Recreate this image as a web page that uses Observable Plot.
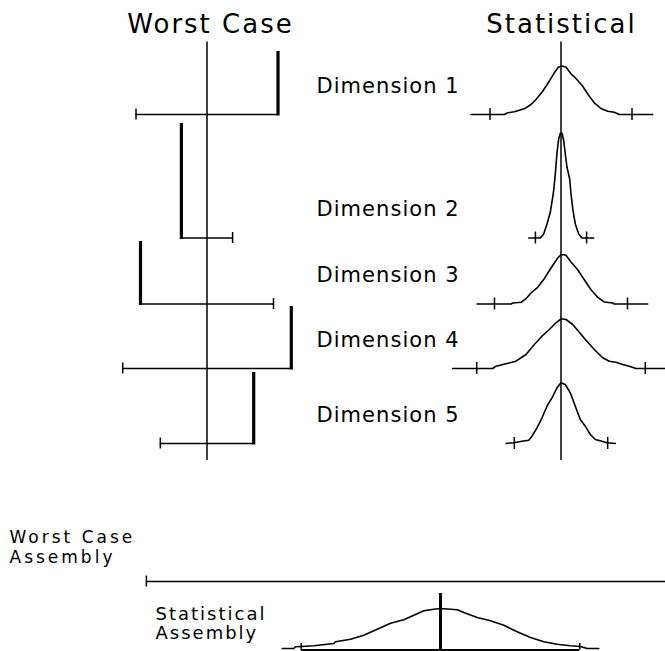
<!DOCTYPE html>
<html>
<head>
<meta charset="utf-8">
<script src="https://cdn.jsdelivr.net/npm/d3@7"></script>
<script src="https://cdn.jsdelivr.net/npm/@observablehq/plot@0.6"></script>
<style>
  html, body { margin: 0; padding: 0; background: #fff; }
  #chart svg { display: block; }
  #chart svg text { letter-spacing: 0.05em; }
</style>
</head>
<body>
<div id="chart"></div>
<script>
// ---------------- data ----------------
const titles = ["Worst Case", "Statistical"];
const dimensions = ["Dimension 1", "Dimension 2", "Dimension 3", "Dimension 4", "Dimension 5"];
// ± tolerance of each dimension
const tolerance = [71, 25.6, 66.5, 84.3, 46.7];
// side of the range where the worst-case contribution lands (+1 upper, -1 lower)
const worstSide = [1, -1, -1, 1, 1];
// height of the worst-case contribution bar
const worstBar = [63, 114.5, 62.5, 62, 71];

// statistical distributions: [offset from nominal, frequency height]
const statCurve1 = [[-90,0],[-56.7,0],[-53.3,1.7],[-46.7,2.7],[-40,4.7],[-36.7,5.7],[-30,10],[-25,15],[-18.3,23.3],[-11.7,33.3],[-6.7,41.7],[-2.7,47.3],[0,48.3],[2,48.3],[5,47.3],[10,40.7],[15,36],[21.7,28.3],[28.3,18.3],[33.3,11.7],[40,6],[46.7,3.3],[53.3,2.3],[58.3,0],[91.7,0]];
const statCurve2 = [[-32.3,0],[-20.7,0],[-17.3,4],[-14,14],[-10.7,25.7],[-7.3,47.3],[-5.7,64],[-4,85.3],[-2.3,99],[-0.7,104.7],[1,104.7],[2.7,97.3],[4.3,84],[6,70.7],[8.7,59],[10,44],[12,27.3],[14.3,14],[17.7,4],[21,0],[32.7,0]];
const statCurve3 = [[-84,0],[-50,0],[-48.3,1],[-40,1.7],[-35,5.3],[-30,11],[-23.3,16.7],[-16.7,25.3],[-10,36],[-3.3,46],[0,49.3],[3,49.3],[5,48.7],[10,42],[16.7,34.3],[23.3,24.3],[30,14.3],[36.7,6.7],[43.3,2],[51.7,1],[53.3,0],[86.7,0]];
const statCurve4 = [[-108.3,0],[-68.3,0],[-65,2.3],[-55,4.7],[-45,7.3],[-35,14],[-26.7,24],[-18.3,33],[-11.7,39],[-5,45.7],[0,49.7],[5,49],[11.7,44],[18.3,36.3],[25,28.3],[33.3,19],[41.7,10.7],[48.3,7.3],[55,6.3],[61.7,4],[68.3,2.3],[75,0],[105,0]];
const statCurve5 = [[-55,0],[-47.3,0.7],[-39,2.3],[-32.3,3.3],[-29,7.3],[-24,15.7],[-19,25.7],[-14,37.3],[-9,45.7],[-4,55.7],[0,60.7],[4.3,59],[9.3,50.7],[14.3,37.3],[19.3,24],[24.3,17.3],[29.3,9],[34.3,4],[41,2.3],[46,0.7],[54.3,0]];
const assemblyCurve = [[-158.3,0],[-146.7,0],[-145,1.7],[-138.3,2],[-126.7,2.7],[-106.7,5],[-105,6.7],[-90,9.3],[-76.7,13.3],[-63.3,19.3],[-50,25.3],[-36.7,28.7],[-26.7,33.3],[-16.7,37.7],[-6.7,39.3],[0,40],[10,39.3],[16.7,38.7],[23.3,36],[36.7,31],[50,27.7],[63.3,23.3],[76.7,16.7],[90,11],[103.3,6.7],[116.7,4.3],[130,2.7],[140,2],[146.7,0],[158.3,0]];
const assemblyLabels = [["Worst Case", "Assembly"], ["Statistical", "Assembly"]];

// ---------------- layout ----------------
const W = 665, H = 651;
const wcX = 206.5, stX = 560.5, asmX = 440;
const rowY = [114, 237.5, 303.5, 368, 443];
const axisTop = 41.5, axisBottom = 460;
const titleX = [210, 561], titleBase = 32;
const labelX = 316;
const wcAsmY = 581, stAsmBase = 648, stAsmLine = 649.5, stAsmTop = 593;
const asmLabelX = [9, 155];
const asmLabelBase = [[542, 562], [619, 638]];

const statCurves = [statCurve1, statCurve2, statCurve3, statCurve4, statCurve5];
const rows = dimensions.map((name, i) => ({
  name, i, tol: tolerance[i], side: worstSide[i], bar: worstBar[i], y: rowY[i]
}));
const statPts = statCurves.flatMap((c, i) => c.map(([dx, h]) => ({i, x: stX + dx, y: rowY[i] - h})));
const statTicks = rows.flatMap(r => [-1, 1].map(s => ({x: stX + s * r.tol, y: r.y})));

const wcSum = d3.sum(tolerance);
const rss = Math.sqrt(d3.sum(tolerance, t => t * t));
const asmPts = assemblyCurve.map(([dx, h]) => ({x: asmX + dx, y: stAsmBase - h}));

const font = {fontFamily: "DejaVu Sans", fill: "black"};

const titleMark = Plot.text(titles, {x: (d, i) => titleX[i], y: () => titleBase, text: d => d, fontSize: 26, textAnchor: "middle", lineAnchor: "bottom", ...font});
const asmMarkA = Plot.text(assemblyLabels[0], {x: () => asmLabelX[0], y: (d, i) => asmLabelBase[0][i], text: d => d, fontSize: 17, textAnchor: "start", lineAnchor: "bottom", ...font});
const asmMarkB = Plot.text(assemblyLabels[1], {x: () => asmLabelX[1], y: (d, i) => asmLabelBase[1][i], text: d => d, fontSize: 18, textAnchor: "start", lineAnchor: "bottom", ...font});

const chart = Plot.plot({
  width: W, height: H, margin: 0,
  x: {domain: [0, W], range: [0, W], axis: null},
  y: {domain: [0, H], range: [0, H], axis: null},
  style: {background: "white", fontFamily: "DejaVu Sans", overflow: "hidden"},
  marks: [
    // titles
    titleMark,
    // nominal axes
    Plot.ruleX([wcX, stX], {y1: () => axisTop, y2: () => axisBottom, stroke: "black", strokeWidth: 1.5}),
    // worst case ranges
    Plot.ruleY(rows, {y: "y", x1: d => wcX - d.tol, x2: d => wcX + d.tol, stroke: "black", strokeWidth: 1.6}),
    Plot.ruleX(rows, {x: d => wcX - d.side * d.tol, y1: d => d.y - 5.5, y2: d => d.y + 5.5, stroke: "black", strokeWidth: 1.5}),
    Plot.ruleX(rows, {x: d => wcX + d.side * d.tol, y1: d => d.y + 1.5, y2: d => d.y - d.bar, stroke: "black", strokeWidth: 3.2}),
    // labels
    Plot.text(rows, {x: () => labelX, y: d => d.y - 22, text: "name", fontSize: 21, textAnchor: "start", lineAnchor: "bottom", ...font}),
    // statistical distributions
    Plot.line(statPts, {x: "x", y: "y", z: "i", stroke: "black", strokeWidth: 1.6, curve: "linear"}),
    Plot.ruleX(statTicks, {x: "x", y1: d => d.y - 6, y2: d => d.y + 6, stroke: "black", strokeWidth: 1.5}),
    // worst case assembly
    Plot.ruleY([wcAsmY], {x1: () => asmX - wcSum, x2: () => asmX + wcSum, stroke: "black", strokeWidth: 1.6}),
    Plot.ruleX([asmX - wcSum, asmX + wcSum], {y1: () => wcAsmY - 5.5, y2: () => wcAsmY + 5.5, stroke: "black", strokeWidth: 1.5}),
    // statistical assembly
    Plot.line(asmPts, {x: "x", y: "y", stroke: "black", strokeWidth: 1.6}),
    Plot.ruleY([stAsmLine], {x1: () => asmX - rss, x2: () => asmX + rss, stroke: "black", strokeWidth: 1.8}),
    Plot.ruleX([asmX - rss, asmX + rss], {y1: () => stAsmBase - 5, y2: () => stAsmLine, stroke: "black", strokeWidth: 1.5}),
    Plot.ruleX([asmX], {y1: () => stAsmTop, y2: () => 650, stroke: "black", strokeWidth: 3}),
    // assembly labels
    asmMarkA,
    asmMarkB
  ]
});
// wider lettering (the original CAD-style font is wide)
const groups = d3.select(chart).selectAll("g[aria-label='text']").nodes();
// order: titles, dimension labels, worst case assembly label, statistical assembly label
d3.select(groups[0]).selectAll("text").style("letter-spacing", "2px");
d3.select(groups[2]).selectAll("text").style("letter-spacing", "3px");
d3.select(groups[3]).selectAll("text").style("letter-spacing", "2px");
document.getElementById("chart").appendChild(chart);
</script>
</body>
</html>
